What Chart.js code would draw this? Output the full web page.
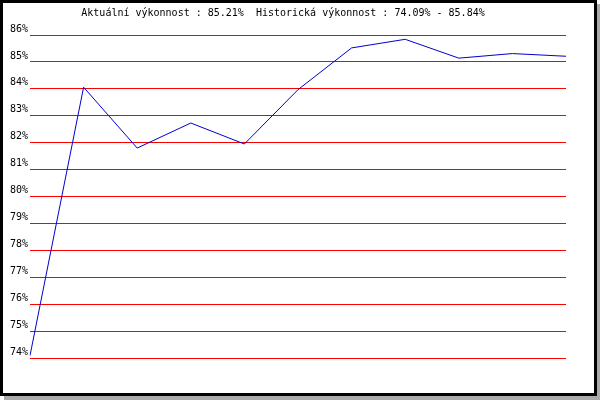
<!DOCTYPE html>
<html lang="cs">
<head>
    <meta charset="UTF-8">
    <title>Výkonnost</title>
    <script src="https://cdn.jsdelivr.net/npm/chart.js"></script>
    <style>
        body {
            margin: 0;
            background: #fff;
        }
        #frame {
            position: absolute;
            left: 0;
            top: 0;
            width: 591px;
            height: 390px;
            border: 3px solid #000;
            background: #fff;
            box-shadow: 4px 4px 0 #aaa;
        }
    </style>
</head>
<body>
    <div id="frame"><canvas id="perfChart"></canvas></div>
    <script>
        const titleText = "Aktuální výkonnost : 85.21%  Historická výkonnost : 74.09% - 85.84%";
        const labels = ["1", "2", "3", "4", "5", "6", "7", "8", "9", "10", "11"];
        const values = [74.09, 84.06, 81.8, 82.73, 81.95, 83.97, 85.52, 85.84, 85.14, 85.31, 85.21];
        const yMin = 74;
        const yMax = 86;

        const monoFont = { family: "'DejaVu Sans Mono', monospace", size: 10 };

        // title drawn at a fixed spot, like the original
        const titlePlugin = {
            id: "fixedTitle",
            afterDraw(chart) {
                const c = chart.ctx;
                c.save();
                c.font = "10px 'DejaVu Sans Mono', monospace";
                c.fillStyle = "#000";
                c.textAlign = "center";
                c.textBaseline = "middle";
                c.fillText(titleText, 280, 10);
                c.restore();
            }
        };

        const ctx = document.getElementById("perfChart").getContext("2d");
        new Chart(ctx, {
            type: "line",
            data: {
                labels: labels,
                datasets: [{
                    data: values,
                    borderColor: "#0000cc",
                    borderWidth: 1,
                    pointRadius: 0,
                    tension: 0,
                    fill: false
                }]
            },
            options: {
                responsive: true,
                maintainAspectRatio: false,
                animation: false,
                layout: { padding: { top: 32, right: 28, bottom: 35, left: 0 } },
                plugins: {
                    legend: { display: false },
                    tooltip: { enabled: false }
                },
                scales: {
                    x: { display: false },
                    y: {
                        min: yMin,
                        max: yMax,
                        afterFit(scale) { scale.width = 27; },
                        border: { display: false },
                        grid: { color: "#ff0000", lineWidth: 1, drawTicks: false },
                        ticks: {
                            stepSize: 1,
                            padding: 2,
                            labelOffset: -6,
                            color: "#000",
                            font: monoFont,
                            callback: (v) => v + "%"
                        }
                    }
                }
            },
            plugins: [titlePlugin]
        });
    </script>
</body>
</html>
